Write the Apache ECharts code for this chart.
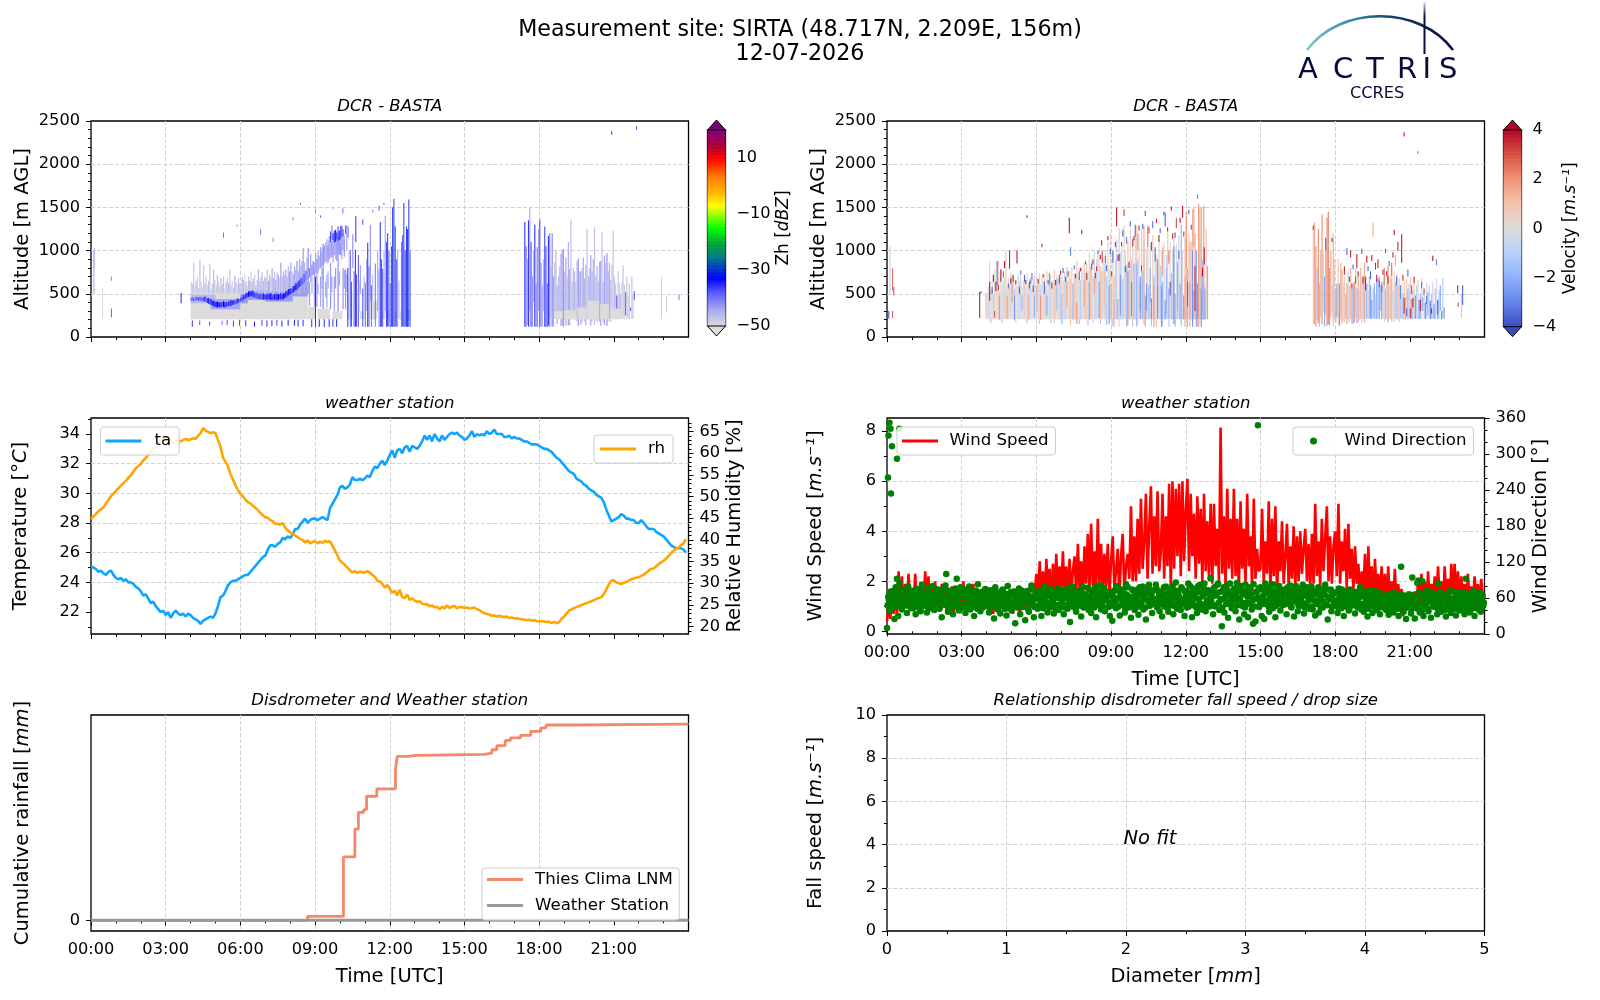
<!DOCTYPE html>
<html><head><meta charset="utf-8">
<style>html,body{margin:0;padding:0;background:#fff}#c{width:1600px;height:1000px}</style>
<script src="https://cdn.jsdelivr.net/npm/echarts@6/dist/echarts.min.js"></script>
</head><body><div id="c"></div>
<script>
const hourTicks=[0,3,6,9,12,15,18,21];
const tempTicks=[22,24,26,28,30,32,34];
const tempMinor=[21,23,25,27,29,31,33,35];
const rhTicks=[20,25,30,35,40,45,50,55,60,65];
const windTicks=[0,2,4,6,8];
const windMinor=[1,3,5,7];
// Temperature, ten readings per hour
const temperature=[
25.1,25.0,24.9,24.7,24.8,24.6,24.5,24.7,24.8,24.5,
24.3,24.2,24.3,24.1,24.2,24.0,24.0,23.9,23.7,23.6,
23.4,23.1,23.2,22.9,22.6,22.7,22.4,22.2,22.0,22.1,
21.8,22.0,21.6,21.9,22.1,21.9,21.8,21.9,21.7,21.9,
21.8,21.6,21.5,21.4,21.2,21.4,21.5,21.6,21.7,21.6,
21.9,22.4,23.0,23.1,23.4,23.8,24.0,24.1,24.1,24.2,
24.3,24.4,24.5,24.5,24.7,24.9,25.1,25.3,25.5,25.7,
25.8,26.2,26.5,26.5,26.4,26.6,26.7,27.0,26.9,27.1,
27.0,27.2,27.6,27.6,27.9,28.1,28.3,28.0,28.2,28.3,
28.3,28.2,28.3,28.4,28.3,28.2,29.0,29.3,29.6,29.9,
30.4,30.5,30.3,30.4,30.6,31.1,30.9,30.9,31.0,30.9,
31.0,31.2,31.1,31.5,31.8,31.7,32.0,32.2,31.9,32.2,
32.6,32.9,32.4,32.9,33.0,32.7,33.1,33.2,32.8,33.2,
33.1,33.0,33.2,33.5,33.9,33.6,33.9,33.5,34.0,33.7,
33.5,33.9,33.6,33.8,34.0,34.1,34.0,34.1,33.9,33.8,
33.6,33.7,33.9,34.2,33.8,34.0,33.9,34.0,33.9,34.2,
34.0,34.1,34.3,34.0,34.0,34.0,33.8,33.8,33.9,33.7,
33.8,33.7,33.7,33.6,33.5,33.5,33.4,33.3,33.3,33.3,
33.2,33.1,33.0,33.0,32.9,32.8,32.6,32.4,32.3,32.1,
31.9,31.7,31.5,31.4,31.3,31.0,30.9,30.8,30.6,30.5,
30.3,30.2,30.1,29.9,29.8,29.7,29.4,28.9,28.5,28.1,
28.2,28.3,28.4,28.6,28.5,28.3,28.3,28.2,28.2,28.0,
28.0,28.2,28.0,27.8,27.6,27.6,27.6,27.4,27.3,27.2,
27.1,26.9,26.7,26.5,26.4,26.3,26.3,26.3,26.2,26.0];
// Relative humidity, ten readings per hour
const humidity=[
44.8,45.4,46.0,46.6,47.1,47.5,48.4,49.2,50.1,50.6,
51.3,51.9,52.5,53.1,53.6,54.4,54.9,55.7,56.5,57.0,
57.5,58.3,58.9,59.6,60.3,61.0,61.4,62.3,63.0,63.2,
63.6,63.9,62.8,62.2,62.6,62.9,62.7,63.0,63.3,63.0,
63.2,63.4,63.3,64.0,64.6,65.8,65.2,64.9,64.6,64.8,
64.6,63.0,61.5,59.0,58.0,57.0,55.2,54.0,52.6,51.5,
50.6,50.0,49.3,48.7,48.4,47.9,47.4,46.9,46.2,45.7,
45.2,45.1,44.6,44.3,43.7,43.7,43.5,43.9,42.8,42.2,
41.7,41.4,41.0,40.6,40.2,40.0,39.4,39.9,39.2,39.5,
39.7,39.2,39.6,39.3,39.8,39.5,39.7,38.6,37.5,36.4,
35.2,34.7,34.2,33.6,33.0,32.5,32.8,32.4,32.7,32.5,
32.5,32.8,32.4,31.9,31.5,30.6,30.4,29.9,29.0,29.6,
28.7,27.8,28.3,27.2,28.5,26.8,26.6,27.4,26.2,26.5,
26.0,25.7,25.9,25.3,25.1,25.2,24.7,24.9,24.4,24.6,
24.0,24.6,24.2,24.9,24.3,24.6,24.8,24.2,24.5,24.5,
24.3,24.4,24.2,24.3,24.4,24.0,23.8,23.4,23.1,22.9,
22.8,22.5,22.6,22.3,22.5,22.3,22.2,22.3,22.0,22.1,
21.9,21.9,21.8,21.7,21.6,21.5,21.6,21.4,21.5,21.3,
21.2,21.3,21.2,21.1,21.1,20.8,21.1,20.8,21.0,21.8,
22.3,23.0,23.7,24.0,24.3,24.5,24.7,25.0,25.2,25.4,
25.6,25.9,26.1,26.4,26.6,26.8,27.5,28.6,29.7,30.6,
30.7,30.2,30.0,29.8,30.1,30.3,30.6,30.9,31.1,31.3,
31.4,31.7,32.0,32.4,32.9,33.3,33.4,33.9,34.4,34.8,
35.2,35.7,36.3,36.9,37.5,37.9,38.2,38.8,39.2,40.2];
// Wind speed, fifteen readings per hour
const windSpeed=[
0.4,1.2,0.5,1.4,0.7,1.6,0.6,2.4,1.0,2.2,0.8,1.9,1.1,2.3,1.0,
1.7,0.9,2.3,1.1,1.6,0.7,1.8,1.1,2.4,1.3,2.2,0.9,1.7,1.1,2.0,
1.0,1.7,0.8,1.9,1.2,1.6,0.7,1.5,1.1,1.8,0.6,1.5,1.0,1.7,1.2,
0.9,2.0,1.0,1.3,0.8,1.6,1.1,1.9,0.9,1.4,1.0,1.5,0.8,1.6,1.2,
0.9,1.5,1.1,1.3,0.7,1.4,1.0,1.6,0.9,1.3,1.1,1.5,0.8,1.6,1.0,
1.2,0.7,1.7,0.9,1.3,0.6,1.5,1.1,1.4,0.9,1.7,1.1,1.5,1.0,1.6,
2.3,1.3,2.8,1.4,2.4,1.1,2.9,1.6,2.5,1.2,2.7,1.5,3.1,1.3,2.6,
1.6,3.2,1.4,2.6,1.2,2.9,1.5,2.4,3.0,1.5,3.5,1.7,2.8,1.3,3.4,
1.9,3.9,1.6,4.3,1.8,3.2,1.4,4.5,1.9,3.5,1.5,3.1,1.8,3.5,1.4,
2.8,3.8,1.7,2.4,3.3,1.3,3.0,3.9,1.6,2.6,3.1,2.1,5.0,2.0,3.8,
2.0,4.5,2.3,5.3,2.5,3.6,5.5,2.1,4.2,5.8,2.3,4.6,2.6,5.6,2.4,
3.2,5.5,2.1,4.6,2.6,5.9,1.6,6.0,2.5,5.7,3.0,5.9,2.2,6.0,2.8,
4.8,6.1,2.4,5.5,3.0,4.7,2.1,5.4,2.7,4.9,1.9,5.5,2.4,4.4,2.2,
5.1,1.9,5.1,2.6,4.1,2.0,8.15,2.3,4.6,1.8,5.7,2.5,4.5,2.1,5.7,
2.2,4.5,1.5,5.2,2.5,4.1,1.9,5.5,2.6,3.8,1.7,5.3,2.1,3.3,2.4,
2.5,4.9,1.9,3.6,2.3,5.2,1.6,4.5,2.2,5.0,1.5,3.6,2.4,4.4,1.9,
3.0,4.3,1.8,3.4,2.1,4.2,1.7,3.8,2.0,4.0,2.3,3.3,4.1,2.0,3.5,
1.7,3.9,1.9,5.1,2.2,3.6,1.8,4.5,2.4,3.7,5.0,2.0,3.8,1.9,3.4,
4.0,2.2,5.1,1.9,3.6,2.4,4.1,1.7,4.3,2.1,3.3,1.6,3.4,1.9,2.7,
1.3,2.4,1.6,3.1,1.1,3.4,1.5,2.6,1.1,2.9,1.4,2.3,1.0,2.6,1.2,
2.3,1.0,2.6,0.9,2.0,1.3,2.5,0.8,1.9,1.2,1.7,0.6,1.5,1.1,1.6,
0.9,1.5,1.2,1.6,0.9,2.1,1.0,2.3,1.2,2.0,0.9,2.4,1.1,1.9,1.3,
2.2,1.1,2.6,1.3,2.0,1.0,2.6,1.4,2.1,1.1,2.7,1.5,2.7,1.2,2.4,
1.1,2.2,1.3,1.9,0.9,2.3,1.2,1.8,1.0,2.2,1.3,1.9,1.0,2.1,1.4];
// Wind direction, twenty readings per hour
const windDirection=[
10,62,38,71,45,66,25,78,52,30,84,58,41,73,48,68,35,79,55,62,
72,43,61,33,75,50,66,38,82,47,70,56,36,77,44,64,52,80,40,68,
58,74,42,67,28,63,49,81,54,37,72,46,69,33,60,76,51,64,39,78,
44,62,74,35,66,52,79,41,57,71,30,65,48,83,56,38,70,44,61,75,
50,68,36,73,47,63,26,78,55,41,69,34,60,74,46,66,31,80,52,43,
39,64,71,18,57,48,76,33,62,45,69,23,56,72,37,60,81,49,28,65,
67,42,58,73,30,63,46,79,52,36,69,44,75,56,34,61,48,70,40,64,
72,47,33,60,76,42,65,20,55,79,46,62,37,68,51,73,29,58,44,66,
53,77,40,62,35,69,47,74,28,56,63,81,41,50,71,38,60,67,45,30,
65,22,57,72,43,59,75,31,64,48,70,36,83,52,44,61,27,74,58,40,
49,66,32,78,54,70,41,62,24,68,76,47,58,35,73,50,82,44,60,38,
71,29,63,46,79,55,37,66,48,74,33,60,86,42,69,52,40,75,57,30,
62,44,84,53,68,28,76,47,60,35,80,50,71,41,65,84,38,56,73,46,
93,62,33,78,48,68,84,40,57,13,72,36,64,81,27,54,70,43,61,76,
38,85,60,24,72,47,66,33,82,52,28,64,75,41,17,58,21,69,348,45,
78,30,63,25,84,50,70,37,59,83,43,67,28,74,55,80,39,62,48,71,
66,33,78,52,81,44,62,29,70,56,38,76,47,61,82,34,64,50,73,42,
57,79,41,66,31,71,53,36,75,62,44,68,82,49,24,60,73,38,65,54,
47,69,35,76,58,43,66,30,71,52,62,39,74,48,57,65,34,70,44,60,
78,41,63,37,68,52,29,72,46,60,35,64,50,70,42,57,33,66,46,61,
54,40,65,32,59,46,68,36,55,42,63,30,58,112,48,37,62,25,52,44,
66,34,94,47,26,59,42,89,36,64,50,30,57,44,73,38,61,27,52,68,
45,60,33,84,50,37,67,42,56,29,64,47,72,35,58,44,69,31,62,52,
39,70,46,61,33,92,48,66,36,58,43,72,30,63,50,41,69,37,56,47];
// Wind direction, second set of twenty per hour, between the first set's readings
const windDirectionB=[
48,58,66,42,54,72,46,62,50,68,56,44,60,74,52,64,47,70,55,43,
60,52,70,46,64,57,41,73,49,61,55,67,45,71,53,59,42,66,50,74,
56,64,44,69,51,60,75,48,57,66,43,71,53,62,47,68,55,41,73,50,
63,50,70,45,59,74,52,65,46,61,55,72,42,67,51,58,64,47,73,54,
57,66,43,71,52,61,47,69,55,44,64,50,73,58,42,67,53,60,46,70,
52,62,48,70,44,58,65,51,72,46,60,54,68,41,63,50,74,56,45,66,
61,47,73,54,66,43,59,70,50,63,45,74,57,52,68,42,60,76,49,64,
54,69,44,62,72,50,58,46,67,75,53,42,64,56,71,47,61,78,50,66,
60,48,74,52,68,57,44,79,63,50,72,46,65,55,76,43,60,70,52,66,
47,63,72,54,80,45,60,68,50,74,57,43,66,78,52,62,46,73,56,68,
58,74,46,65,52,79,60,44,70,55,82,48,64,72,50,58,76,45,67,53,
64,50,78,57,68,44,74,60,52,80,47,66,72,55,63,45,78,58,50,70,
72,56,46,80,62,52,74,65,44,70,58,82,50,63,76,47,68,55,72,60,
54,68,76,46,64,82,52,70,58,44,78,60,50,72,65,84,48,62,74,56,
66,48,74,58,80,52,68,44,72,62,78,50,66,56,83,46,70,60,76,54,
60,74,50,68,56,78,46,64,72,52,82,58,47,70,62,76,50,66,55,74,
50,68,58,76,46,64,72,54,80,60,48,70,62,52,74,44,66,78,56,64,
64,46,72,56,68,50,78,60,44,70,54,66,76,48,62,58,74,46,68,52,
56,70,44,62,50,74,58,46,68,54,64,42,72,56,48,66,60,50,70,46,
50,64,44,70,54,58,42,66,50,62,46,72,56,40,60,48,68,52,44,62,
44,58,50,64,40,54,62,46,68,52,42,60,48,66,38,56,50,64,44,58,
52,42,64,48,60,54,44,70,50,38,62,46,66,52,42,60,56,68,46,54,
50,64,42,58,70,46,54,62,40,66,50,44,60,72,48,56,42,64,52,46,
46,60,52,70,42,56,64,48,38,66,54,44,60,50,70,46,58,42,64,52];
const windDirExtra=[[0.1,352],[0.14,342],[0.06,331],[0.2,313],[0.4,292],[0.04,261],[0.16,234],[0.5,342],[2.38,100],[2.8,92],[0.4,92],[13,93],[21.3,85],[21.5,88]];
const rainSteps=[[0,0],[8.7,0.2],[10.14,3.23],[10.6,4.65],[10.74,5.5],[10.95,5.64],[11.07,6.32],[11.48,6.7],[12.23,7.67],[12.3,8.35],[12.75,8.4],[13.05,8.45],[15.8,8.52],[16.1,8.69],[16.3,8.9],[16.64,9.17],[16.85,9.29],[17.25,9.42],[17.66,9.63],[18.07,9.8],[18.28,9.95],[19.4,10],[24,10]];
const stationRain=[[0,0],[24,0]];
// Reflectivity profiles are twenty per hour. Base patches [start,end,low,high,dBZ]
const zhBlocks=[[4,8.7,205,500,-50],[8.7,9.0,205,350,-50],[9.1,9.6,205,330,-50],[9.7,10.1,205,300,-50],[10.3,10.5,205,500,-50],[10.8,11,205,300,-50],[11.2,11.5,205,420,-50],[11.7,12,205,300,-50],[12.2,12.5,205,300,-50],[12.7,12.85,205,320,-50],
[4,5,390,490,-46],[4.8,6,320,440,-44],[6,6.3,390,500,-43],[6.3,7,430,540,-43],[7,8.1,410,530,-43],[8.1,8.7,470,640,-43]];
// Pale fringe above the base, from 04:00: column tops and dBZ
const zhFringeTop=[
640,620,860,600,650,700,560,890,640,580,830,620,700,600,650,850,560,620,780,660,
600,720,640,590,680,610,700,560,640,690,620,780,600,650,570,710,640,600,680,620,
620,690,660,720,640,590,700,650,760,640,680,720,600,660,780,640,690,750,650,700,
680,780,650,720,690,800,680,760,660,740,720,690,860,700,760,720,780,700,820,760,
860,760,720,820,780,880,760,900,820,880,1030,860,760,920];
const zhFringeDbz=[
-49,-48,-48,-49,-47,-48,-49,-47,-48,-49,-48,-47,-48,-49,-47,-48,-49,-48,-47,-48,
-48,-47,-49,-48,-46,-48,-47,-49,-47,-48,-46,-48,-47,-49,-48,-46,-47,-49,-47,-46,
-48,-46,-47,-49,-46,-48,-47,-45,-48,-46,-47,-49,-45,-47,-46,-48,-45,-47,-46,-48,
-45,-47,-44,-46,-48,-45,-46,-47,-44,-46,-45,-48,-44,-46,-45,-47,-44,-45,-46,-44,
-44,-46,-45,-44,-46,-43,-45,-44,-46,-43,-44,-45,-43,-44];
// Bright band, from 04:00, per column: low, thickness, dBZ
const zhBandLow=[
420,425,415,425,420,430,420,425,415,420,415,410,405,395,385,380,370,365,355,350,
345,340,350,340,345,355,345,340,350,360,355,365,360,370,375,385,380,390,400,405,
410,420,430,440,450,460,465,470,480,470,465,455,450,445,440,445,435,440,430,435,
435,430,440,435,430,425,440,430,435,425,430,440,435,430,440,450,460,470,480,490,
495,505,515,525,540,550,565,580,590,610,620,635,650,665,670,690,700,710,720,735,
745,760,770,785,800,820,830,850,870,880,890,900,920,930,940,950,950,960,970,980,
990,1000,1010,1020];
const zhBandThick=[
30,40,35,25,45,30,40,35,50,30,45,60,55,50,65,60,70,55,65,60,
60,70,50,65,55,45,70,60,55,40,60,50,65,55,45,50,40,55,45,35,
50,40,55,45,60,50,65,55,50,65,70,60,55,70,65,50,70,55,75,60,
55,70,60,65,75,60,50,70,60,75,65,55,70,60,65,55,70,60,75,65,
70,60,75,65,80,70,85,75,90,80,110,95,120,100,130,110,140,120,150,130,
170,140,180,150,190,160,210,170,220,180,230,190,210,180,240,200,220,250,200,230,
210,180,190,160];
const zhBandDbz=[
-39,-40,-38,-41,-38,-40,-37,-39,-38,-40,-37,-36,-38,-36,-35,-37,-34,-36,-34,-35,
-34,-33,-36,-34,-35,-37,-33,-35,-34,-38,-35,-37,-34,-36,-35,-38,-37,-35,-37,-38,
-36,-38,-35,-37,-34,-36,-34,-35,-33,-35,-37,-36,-38,-37,-39,-36,-38,-37,-35,-37,
-35,-34,-37,-35,-33,-36,-38,-34,-36,-35,-33,-37,-34,-36,-33,-35,-34,-36,-34,-36,
-35,-37,-34,-36,-34,-35,-37,-36,-38,-37,-40,-39,-42,-41,-43,-41,-44,-42,-43,-45,
-43,-45,-44,-46,-43,-45,-42,-44,-46,-43,-45,-44,-46,-43,-45,-44,-46,-45,-43,-45,
-44,-46,-43,-45];
// Pale patches, one column each [time, low, high, dBZ]
const zhPale=[
[8.7,500,1030,-43],[8.75,360,640,-43],[8.8,640,760,-44],[8.85,500,700,-45],[8.95,350,760,-44],[9.05,350,900,-43],[9.1,500,620,-45],[9.2,350,700,-44],[9.25,560,800,-45],[9.3,330,1080,-42],[9.4,460,640,-44],[9.45,340,720,-44],[9.5,560,760,-45],[9.6,320,860,-43],[9.65,520,700,-44],[9.75,300,700,-44],[9.8,560,800,-43],[9.9,300,1170,-42],[9.95,600,760,-44],[10.1,320,800,-43],[10.15,560,780,-44],[10.2,320,780,-43],[10.25,520,720,-44],
[8.8,700,960,-44],[8.9,720,880,-43],[9,760,980,-44],[9.1,740,1000,-45],[9.2,800,1040,-43],[9.25,820,980,-45],[9.35,860,1060,-44],[9.45,850,1130,-45],[9.5,860,1050,-43],[9.55,900,1170,-44],[9.65,920,1100,-43],[9.7,860,1060,-44],[9.8,900,1150,-45],[9.85,880,1100,-43],[9.95,950,1200,-44],[10,950,1080,-42],[10.05,900,1230,-44],[10.15,930,1130,-43],[10.25,1000,1290,-44],
[9.6,1100,1220,-37],[9.65,1130,1290,-42],[9.7,1120,1200,-36],[9.75,1090,1230,-37],[9.8,1100,1240,-35],[9.85,1130,1210,-36],[9.9,1110,1280,-38],[9.95,1120,1230,-36],[10,1140,1280,-38],[10.05,1170,1290,-38],[10.1,1160,1250,-39],[10.2,1190,1290,-39],[10.3,1150,1280,-41]];
// Individual reflectivity profiles [time, low, high, dBZ]
const zhStripes=[
[0.1,500,1000,-43],[0.12,800,1030,-46],[0.45,210,570,-49],[0.8,230,330,-37],[0.8,650,700,-40],[3.6,390,510,-33],
[4.05,120,190,-34],[4.35,140,190,-36],[4.75,130,180,-36],[5.25,140,190,-38],[5.45,140,200,-36],[5.7,120,190,-35],[5.95,130,200,-36],[6.2,125,195,-34],[6.55,120,180,-33],[6.85,130,200,-35],[7.05,120,195,-34],[7.25,125,195,-33],[7.45,130,200,-35],[7.65,120,190,-31],[7.9,130,200,-33],[8.15,130,200,-33],[8.3,120,200,-34],[8.5,125,200,-32],[8.85,115,205,-31],
[9,120,700,-34],[9.15,115,205,-33],[9.35,115,205,-32],[9.55,120,205,-33],[9.7,120,205,-34],[9.85,120,205,-33],
[10.3,120,800,-33],[10.35,500,1000,-44],[10.4,120,1000,-38],[10.45,120,640,-36],[10.5,800,1190,-39],[10.55,120,760,-37],[10.6,120,1010,-33],[10.62,1100,1400,-34],[10.65,120,720,-36],[10.72,120,950,-36],[10.75,300,640,-44],[10.8,500,830,-41],[10.9,120,560,-36],[10.95,300,700,-44],[11,120,630,-38],[11.05,300,900,-44],[11.1,120,1090,-33],[11.15,120,820,-37],[11.2,420,1300,-40],[11.25,120,600,-38],[11.3,420,720,-44],[11.4,120,850,-38],[11.5,300,1000,-42],[11.55,120,780,-42],[11.6,120,1330,-32],[11.65,120,900,-36],[11.7,120,790,-36],[11.75,300,1000,-44],[11.8,300,1400,-41],[11.85,120,1100,-36],[11.9,120,1200,-31],[11.95,120,1000,-36],[12,120,620,-38],[12.05,120,1050,-36],[12.1,120,1500,-34],[12.15,120,1600,-30],[12.2,120,1280,-31],[12.25,120,900,-38],[12.3,120,1000,-42],[12.35,300,650,-44],[12.45,120,1100,-38],[12.5,120,1180,-36],[12.55,120,1550,-31],[12.6,120,1000,-31],[12.65,120,1280,-32],[12.7,120,1250,-31],[12.75,120,1590,-32],[12.8,120,1000,-37],
[5.3,1150,1210,-38],[5.85,1280,1300,-38],[6.8,1180,1250,-40],[7.3,1100,1150,-40],[8.1,1350,1390,-40],[8.4,1530,1550,-36],[9,1440,1480,-40],[9.2,1380,1410,-38],[9.7,1480,1500,-42],[10.1,1430,1490,-38],[10.9,1300,1360,-36],[11.3,1440,1470,-38],[11.55,1460,1520,-36],[11.75,1530,1550,-36],
[20.9,2340,2380,-34],[21.9,2400,2440,-36],[22.9,210,700,-48],[23.1,280,480,-48],[23.6,430,490,-38]];
// Second cloud block, from 17:24, per column: low, high, dBZ
const zh2Low=[
120,120,140,120,300,120,120,400,120,120,120,300,120,120,120,300,120,120,120,130,
120,210,120,120,300,210,150,210,300,130,130,120,200,130,210,130,140,210,300,210,
200,210,180,130,210,140,180,210,180,130,210,200,210,130,180,210,140,200,180,210,
180,130,210,180,140,210,130,180,210,170,210,210,240,210,210,210,250,210,210,210,
210,250,210,210,210,300,210,210,430];
const zh2High=[
1330,1050,900,1350,1500,1100,700,1000,1300,620,1040,1250,1360,860,600,900,1280,1050,620,1170,
1200,820,1200,700,860,1000,600,700,820,960,1000,1020,760,920,700,1100,780,1360,640,800,
760,640,880,910,760,760,800,920,680,840,1250,700,800,950,760,900,1270,700,820,640,
870,880,1220,640,940,860,970,760,860,660,840,1230,700,620,480,760,620,500,640,830,
600,520,700,480,620,340,700,500,530];
const zh2Dbz=[
-37,-40,-44,-36,-45,-38,-42,-46,-37,-42,-41,-45,-38,-42,-44,-46,-38,-38,-40,-36,
-42,-47,-42,-44,-47,-46,-45,-47,-47,-45,-44,-43,-47,-44,-47,-45,-45,-47,-46,-47,
-46,-47,-46,-43,-47,-44,-46,-45,-46,-45,-47,-46,-47,-44,-46,-45,-47,-47,-45,-47,
-45,-44,-47,-46,-44,-47,-43,-46,-45,-47,-47,-48,-47,-48,-37,-48,-48,-47,-48,-48,
-48,-40,-48,-48,-48,-38,-48,-48,-40];
// Grey lower layer of the second block, drawn last [start,end,low,high,dBZ]
const zh2Base=[[18.6,18.95,210,300,-50],[19,19.5,205,310,-50],[19.55,19.9,205,340,-50],[19.95,20.4,205,420,-50],[20.45,20.8,205,380,-50],[20.85,21.35,205,330,-50]];
// Velocity, from 04:00, per column: top of profile and m/s
const velTop=[
520,590,880,540,640,500,780,560,620,880,520,790,610,650,700,1000,560,680,620,740,
600,720,560,650,590,720,640,700,560,650,700,590,740,620,680,700,560,660,720,600,
700,640,740,600,700,650,720,590,760,640,680,720,600,660,780,640,720,680,650,700,
720,650,760,680,810,640,760,680,810,620,740,680,880,700,800,660,810,740,860,760,
860,760,980,820,880,700,1000,760,900,950,1040,820,760,920,860,1000,700,1100,780,1200,
620,1000,430,900,1130,440,1260,980,1050,680,1290,1000,840,1120,780,1250,900,1150,850,1300,
1290,900,1180,640,1250,760,1130,480,1020,1200,600,1090,450,1180,700,1040,950,600,1130,820,
1000,640,1100,430,950,1230,560,1100,740,1000,1200,500,1080,880,1180,620,1300,1000,480,1150,
1350,800,1200,620,1100,1480,540,1200,1000,620,1500,1100,1500,900,1520,560,1260,820];
const velVal=[
-.3,-.1,.4,-.5,.2,-.7,.3,-.2,.1,.7,-.4,.2,-.6,0,.3,.6,-.6,.1,-.2,.4,
-.3,.2,-.8,-.1,.3,-.4,.1,-.7,.3,-.2,.5,-.5,.2,-.3,.5,-.7,-.1,.3,-.6,.2,
.4,-.4,.1,-.8,.6,-.2,.3,-.5,.7,-.3,.1,-.7,.5,-.2,.8,-.4,.2,-.1,.6,-.6,
.2,.8,-.4,.3,-.7,.5,-.2,.9,-.5,.1,.7,-.3,.8,-.6,.4,-.9,.7,-.1,.5,-.4,
.8,-.6,.3,.9,-.8,.5,-.3,.8,-.7,.3,-.1,1,-.9,.4,-.5,.6,-1.1,.2,-.7,.5,
-1.4,.3,-1.8,.4,-1,-2.2,.7,-.6,.1,-1.6,.4,-.4,-1.4,.8,-1.7,.3,-.7,.6,-2,.2,
.4,-1.5,.4,-2.1,.9,-1.8,-.5,-2.4,.2,.6,-2,-.3,-2.6,.5,-1.7,-.5,.3,-2.2,.4,-1.2,
-.4,-2,.4,-2.6,-.8,.7,-2.3,.2,-1.4,-.6,.5,-2.2,-.3,1.1,-.5,-2.4,.7,-.4,-2.7,1.2,
1.2,-1.6,.7,-2.3,-.5,1.3,-2,1.5,-.7,-2.4,1.2,-.5,1.6,-1.6,1.8,-2.5,.8,-1.7];
// Velocity second cloud block, from 17:06, per column: low, high, m/s
const vel2Low=[
150,150,120,200,160,120,230,150,300,120,260,130,150,130,230,300,130,210,170,230,
150,130,210,160,200,170,210,150,200,170,210,160,150,170,210,160,170,200,210,160,
210,170,210,210,210,210,210,210,220,210,210,210,210,210,300,210,
210,170,210,200,170,210,210,180,210,170,210,200,210,170,210,210,210,200,210,210,
210,210,210,210,210,210,210,210,210,210,210,210,300,210,210,210,250,210,210,210,
210,210,210,260,210,210,300,210,210,210];
const vel2High=[
1250,1330,1050,800,1250,620,1000,1420,1000,700,1100,1380,1450,800,1000,600,1200,900,560,620,
900,620,860,780,620,700,500,620,760,600,800,560,620,640,800,560,700,560,800,700,
680,860,620,620,540,700,600,430,560,620,500,680,680,700,600,640,
620,720,560,640,820,600,700,680,540,760,640,720,600,680,560,620,500,640,460,680,
560,620,700,440,540,620,480,600,660,430,500,680,460,560,400,620,520,600,420,500,
640,380,560,680,420,540,600,300,680,340];
const vel2Val=[
.8,1.5,1.8,-1.4,2,-1.5,1.4,1.8,-.6,-2,1.6,2,2.2,-2,1.5,-1,1.4,.6,1.6,-2.4,
.5,-2.4,1.2,1.6,-.4,.8,-1.2,1.8,-.8,.6,1.2,-1.6,-2,1.8,.8,-1.6,1.6,-.5,1.2,.8,
-1.4,1.4,-.4,-2,.6,-1.6,-2.2,-2.4,-1.2,-2,.4,-2.2,-1.4,-2,-1.4,-2.4,
1,-.4,1.6,.4,2,-.6,1,1.4,-.8,.6,1.2,-1,1.6,.8,-1.2,.4,-1.8,1,-1.6,.6,
-2,-1,.8,-2.2,-1.4,.6,-2.4,-1,.4,-2.6,-1.6,.2,-2.4,-1,-2.6,-.4,-2,-1,-2.8,-1.4,
-.6,-2.8,-1.2,-.2,-2.6,-1,-2,-2.8,-.8,-2.4];
// Individual velocity profiles [time, low, high, m/s]
const velStripes=[
[0.05,210,300,-3.8],[0.1,500,1050,-0.8],[0.2,220,300,2.8],[0.2,540,800,2.6],[0.25,480,580,3],[3.7,220,520,3.6],[3.75,500,530,-3.8],
[4.15,160,205,-1.4],[4.6,160,205,-1.5],[5.15,170,205,-1.2],[5.6,160,205,-1.6],[6.1,150,205,-1],[6.55,165,205,-1.5],[7,150,205,-1.4],[7.35,140,205,1],[7.7,150,205,-1.6],[8.05,130,205,-1.2],[8.25,160,205,1],[8.55,150,205,-1.4],[8.8,140,205,-1.8],[9.05,125,205,-1.4],[9.3,120,205,.8],[9.6,125,205,-1.6],[9.85,120,205,-1.2],[10.05,130,205,.9],[10.35,120,205,-1.8],[10.6,130,205,-1.4],[10.8,120,205,1],[11.05,125,205,-1.6],[11.3,120,205,-1.2],[11.55,120,205,-2],[11.8,125,205,.9],[12.05,120,205,-1.6],[12.25,120,205,-1.4],[12.45,120,205,1.2],
[3.95,215,500,1.2],[4.1,420,640,3.6],[4.2,500,580,-3.6],[4.3,230,300,3],[4.35,530,640,3.8],[4.4,600,880,-3.4],[4.5,200,480,-2],[4.55,640,780,3.6],[4.7,800,880,3.8],[4.8,210,480,1.8],[4.85,560,620,-3.4],[4.9,790,1000,3.6],[5,400,700,2],[5.05,640,720,-3.5],[5.1,200,480,-2.5],[5.2,850,1000,3.7],[5.3,500,580,3.2],[5.4,300,480,-1.8],[5.5,640,720,-3.6],[5.6,1380,1410,3.8],[5.65,200,480,1.6],[5.7,560,640,3.2],[5.8,660,740,-3],[5.9,240,480,-2],[6,300,590,1.5],[6.05,620,670,3.6],[6.15,200,480,2],[6.2,1040,1080,3.6],[6.3,500,640,-3.4],[6.4,250,480,-2.2],[6.5,600,740,2.4],[6.6,560,630,3.5],[6.7,160,480,1],[6.8,300,680,-1.6],[6.9,620,720,3.3],[7,150,500,-1.5],[7.05,740,800,-3.6],[7.2,350,640,1.6],[7.3,1200,1380,3.8],[7.35,940,1040,-3],[7.45,200,620,-1.8],[7.55,680,730,3.6],[7.6,150,400,2],[7.7,660,760,-3.2],[7.8,1190,1240,3.6],[7.9,350,650,1.8],[8,660,740,3.4],[8.1,200,640,-2.2],[8.2,780,850,-3.4],[8.3,500,690,1.6],[8.4,760,820,3.5],[8.5,220,640,-2.4],[8.6,1060,1120,3.6],[8.62,860,1000,3.2],[8.7,340,760,1.2],[8.8,760,830,-3.5],[8.9,150,600,-2.4],[9,700,760,3.3],[9.05,860,1000,-3.4],[9.1,120,700,1.4],[9.2,1280,1500,3.6],[9.25,880,950,-3.4],[9.35,250,720,-2.5],[9.4,1050,1100,3.6],[9.5,1400,1480,3.2],[9.55,750,820,-3.6],[9.65,130,760,2],[9.7,800,870,3.6],[9.8,240,640,-2.8],[9.85,1050,1130,3.4],[9.95,1160,1300,-3.2],[10,120,850,-1.6],[10.05,1000,1200,2],[10.15,300,700,-2.6],[10.2,760,830,3.4],[10.3,150,1290,1.5],[10.4,300,620,-2.5],[10.45,1040,1290,2.2],[10.55,400,800,-2],[10.6,1000,1100,-3.6],[10.7,120,600,1.8],[10.75,870,1040,-3.4],[10.85,220,900,-2.6],[10.9,1100,1180,3.6],[11,120,600,-2.4],[11.05,700,1040,1.6],[11.15,1280,1440,-3.5],[11.2,260,800,-1.8],[11.3,850,1000,2.4],[11.35,480,640,-3.6],[11.45,1130,1200,3],[11.5,150,1050,-2.8],[11.6,1260,1380,3],[11.65,300,850,-2],[11.7,900,1000,-3.4],[11.8,150,1300,-1.5],[11.85,1380,1520,3.6],[11.95,120,700,1.6],[12,800,1450,2],[12.05,350,640,-3.4],[12.15,120,1100,1.4],[12.25,120,1000,-2.6],[12.3,1040,1500,1.8],[12.35,300,820,3.6],[12.4,120,1000,-2.4],[12.5,120,1540,2],[12.55,200,1500,1.2],[12.6,120,560,-2.6],[12.65,700,800,3.8],[12.7,200,620,-1.8],[12.72,840,1040,3.6],[12.45,1600,1650,-3],
[4.25,640,720,3.7],[4.45,540,600,3.5],[4.65,690,760,-3.3],[4.95,620,680,3.6],[5.15,610,660,3.4],[5.35,720,770,-3.2],[5.55,610,660,3.6],[5.75,620,660,-3.4],[5.85,520,600,3.3],[6.25,690,730,3.5],[6.45,620,660,-3.5],[6.75,600,660,3.6],[6.95,720,770,3.5],[7.15,640,700,-3.4],[7.25,700,760,3.3],[7.5,780,830,-3.2],[7.75,760,800,3.6],[7.95,840,880,-3.4],[8.25,840,900,3.4],[8.35,680,740,3.5],[8.45,960,1000,-3.5],[8.55,900,950,3.4],[8.75,860,940,-3.3],[8.85,1120,1170,3.6],[8.95,960,1020,-3.4],[9.15,1040,1100,3.4],[9.3,880,960,3.6],[9.45,1160,1240,-3.5],[9.6,1080,1160,-3],[9.75,1280,1340,-3.5],[9.9,1120,1170,3.6],[10.1,1230,1290,3.4],[10.25,1250,1310,-3.4],[10.35,1400,1460,-3.6],[10.5,1200,1270,3.3],[10.65,1260,1340,-3.2],[10.8,1320,1370,3.6],[10.95,1200,1260,-3.4],[11.1,1410,1450,-3.6],[11.25,1220,1270,3.5],[11.4,1460,1510,3.6],[11.55,1150,1210,-3.4],[11.75,1320,1380,3.6],[11.9,1160,1220,3.4],[12.1,1420,1470,-3.6],[12.2,1240,1300,3.2],
[17.1,1240,1290,3.4],[17.6,1000,1150,-3.4],[17.85,1100,1150,3.6],[18.35,720,820,3.5],[18.45,950,1030,-3.4],[18.55,640,700,3.4],[18.6,920,1000,3.6],[18.65,560,620,3.2],[18.7,780,840,-3.4],[18.8,620,700,-3.4],[18.85,800,960,3.6],[18.9,700,760,3.6],[19.05,960,1020,-3.5],[19.1,620,700,3.6],[19.2,540,700,3.5],[19.25,860,940,3.8],[19.3,760,820,-3.4],[19.4,670,760,-3.6],[19.45,880,950,3.6],[19.5,1160,1320,1.6],[19.6,780,860,3.5],[19.65,640,720,3.6],[19.7,800,900,3.4],[19.75,580,650,-3.5],[19.85,520,600,-3.2],[19.9,720,780,3.6],[19.95,600,800,2.4],[20,970,1020,-3.6],[20.05,700,760,3.5],[20.1,620,700,3.6],[20.15,820,880,-3.4],[20.25,700,860,2.6],[20.3,920,980,3.6],[20.35,1180,1240,3.8],[20.4,820,950,1.6],[20.45,600,700,-3.4],[20.5,1000,1100,3.6],[20.6,440,600,-2.8],[20.65,860,1190,3.6],[20.7,650,720,3.5],[20.75,270,450,3.4],[20.85,240,330,-3.2],[20.9,700,780,-3.4],[21,220,330,3.4],[21.05,500,600,3],[21.1,340,450,3.6],[21.15,620,700,3.5],[21.4,300,430,3.6],[21.45,560,640,-3.2],[21.55,490,560,3],[21.65,380,480,-3],[21.85,270,330,3.6],[21.9,880,940,3.8],[22.05,830,900,-3],[22.1,260,430,-3.4],[22.9,510,600,3.5],[22.92,350,400,3],[23.05,220,500,-0.6],[23.1,370,600,-3.4],
[20.75,2320,2370,3.6],[21.3,2120,2150,-3.4]];
const titleFont='"DejaVu Sans"';
const tickSize=16.2, nameSize=19.5, colTitle=16.5, legendSize=16.6, barNameSize=17;
const zhStops=[[-50,'#dcdcdc'],[-44,'#a6a6f4'],[-38,'#5a5aff'],[-33,'#0000ff'],[-29,'#0040c0'],[-25,'#008080'],[-21,'#00a040'],[-15,'#00ff00'],[-7,'#ffff00'],[-2,'#ffb000'],[3,'#ff8000'],[10,'#ff0000'],[14,'#b00030'],[20,'#800080']];
const velStops=[[-4,'#3b4cc0'],[-3,'#6282ea'],[-2,'#8db0fe'],[-1,'#b8d0f9'],[0,'#dddcdc'],[1,'#f5c4ac'],[2,'#f29274'],[3,'#d65244'],[4,'#b40426']];
function hex(c){return [1,3,5].map(i=>parseInt(c.substr(i,2),16));}
function ramp(stops,v){
  if(v<=stops[0][0])return stops[0][1];
  for(let i=1;i<stops.length;i++){if(v<=stops[i][0]){
    const a=hex(stops[i-1][1]),b=hex(stops[i][1]),f=(v-stops[i-1][0])/(stops[i][0]-stops[i-1][0]);
    return 'rgb('+a.map((x,k)=>Math.round(x+(b[k]-x)*f)).join(',')+')';}}
  return stops[stops.length-1][1];
}
// assemble [time,low,high,value] rows from per-column arrays
const PROFILE_HOURS=0.05;
function profiles(start,lows,highs,vals){return highs.map((h,i)=>[start+i*PROFILE_HOURS,Array.isArray(lows)?lows[i]:lows,h,vals[i]]);}
const zhProfiles=[]
 .concat(profiles(4,500,zhFringeTop,zhFringeDbz))
 .concat(profiles(4,zhBandLow,zhBandLow.map((l,i)=>l+zhBandThick[i]),zhBandDbz))
 .concat(zhPale)
 .concat(profiles(17.4,zh2Low,zh2High,zh2Dbz));
const velProfiles=[]
 .concat(profiles(4,205,velTop,velVal))
 .concat(profiles(17.1,vel2Low,vel2High,vel2Val));
const W=597.5;
const grids=[
 {left:91,top:121,width:W,height:216},{left:887,top:121,width:W,height:216},
 {left:91,top:418,width:W,height:216},{left:887,top:418,width:W,height:216},
 {left:91,top:715,width:W,height:216},{left:887,top:715,width:W,height:216},
 {left:707.5,top:130,width:18,height:196},{left:1503.5,top:130,width:18,height:196.7}
].map(g=>Object.assign({show:true,borderColor:'#000',borderWidth:1.3,backgroundColor:'#fff',containLabel:false},g));
const dash={show:true,showMinLine:false,showMaxLine:false,lineStyle:{color:'#d3d3d3',type:'dashed',width:1}};
const tl={color:'#000',fontSize:tickSize,fontFamily:titleFont};
const yl={...tl,margin:11,padding:[2,0,0,0],formatter:v=>String(v).replace('-','−')};
const rich={i:{fontStyle:'italic',fontSize:nameSize,fontFamily:titleFont,color:'#000'}};
function timeX(gi,labels,name){return {type:'value',gridIndex:gi,min:0,max:24,interval:3,
  axisLine:{show:false},
  axisTick:{show:true,customValues:hourTicks,length:5,lineStyle:{color:'#000'}},
  minorTick:{show:true,splitNumber:3,length:3,lineStyle:{color:'#000'}},
  axisLabel:{show:labels,customValues:hourTicks,formatter:v=>String(v).padStart(2,'0')+':00',hideOverlap:false,...tl,margin:10.5},
  splitLine:dash,minorSplitLine:{show:false},
  name:name||'',nameLocation:'middle',nameGap:36,nameTextStyle:{fontSize:nameSize,fontFamily:titleFont,color:'#000'}};}
function nm(name,gap,size){return {name,nameLocation:'middle',nameGap:gap,nameRotate:90,nameTextStyle:{fontSize:size||nameSize,fontFamily:titleFont,color:'#000',rich:size?{i:{...rich.i,fontSize:size}}:rich}};}
const xAxes=[timeX(0,false),timeX(1,false),timeX(2,false),timeX(3,true,'Time [UTC]'),timeX(4,true,'Time [UTC]'),
 {type:'value',gridIndex:5,min:0,max:5,interval:1,axisLine:{show:false},axisTick:{length:5,lineStyle:{color:'#000'}},minorTick:{show:true,splitNumber:2,length:3,lineStyle:{color:'#000'}},axisLabel:{...tl,margin:10.5},splitLine:dash,
  name:'Diameter [{i|mm}]',nameLocation:'middle',nameGap:36,nameTextStyle:{fontSize:nameSize,fontFamily:titleFont,color:'#000',rich}},
 {type:'value',gridIndex:6,min:0,max:1,show:false},{type:'value',gridIndex:7,min:0,max:1,show:false}];
function altY(gi){return {type:'value',gridIndex:gi,min:0,max:2500,interval:500,axisLine:{show:false},axisTick:{length:5,lineStyle:{color:'#000'}},minorTick:{show:true,splitNumber:5,length:3,lineStyle:{color:'#000'}},axisLabel:yl,splitLine:dash,...nm('Altitude [m AGL]',58)};}
function ticksOnly(gi,pos,min,max,vals){return {type:'value',gridIndex:gi,position:pos,min,max,axisLine:{show:false},axisTick:{show:true,customValues:vals,length:3,lineStyle:{color:'#000'}},axisLabel:{show:false},splitLine:{show:false}};}
const yAxes=[
 altY(0),altY(1),
 {type:'value',gridIndex:2,min:20.52,max:35.08,axisLine:{show:false},axisTick:{customValues:tempTicks,length:5,lineStyle:{color:'#000'}},axisLabel:{...yl,customValues:tempTicks},splitLine:dash,...nm('Temperature [{i|°C}]',60)},
 {type:'value',gridIndex:2,position:'right',min:18.3,max:68.1,axisLine:{show:false},axisTick:{customValues:rhTicks,length:5,lineStyle:{color:'#000'}},axisLabel:{...yl,customValues:rhTicks},splitLine:{show:false},...nm('Relative Humidity [%]',36)},
 {type:'value',gridIndex:3,min:-0.107,max:8.53,axisLine:{show:false},axisTick:{customValues:windTicks,length:5,lineStyle:{color:'#000'}},axisLabel:{...yl,customValues:windTicks},splitLine:dash,...nm('Wind Speed [{i|m.s⁻¹}]',61)},
 {type:'value',gridIndex:3,position:'right',min:0,max:360,interval:60,axisLine:{show:false},axisTick:{length:5,lineStyle:{color:'#000'}},minorTick:{show:true,splitNumber:3,length:3,lineStyle:{color:'#000'}},axisLabel:yl,splitLine:{show:false},...nm('Wind Direction [°]',46)},
 {type:'value',gridIndex:4,min:-0.543,max:10.46,axisLine:{show:false},axisTick:{customValues:[0],length:5,lineStyle:{color:'#000'}},axisLabel:{...yl,customValues:[0]},splitLine:{show:false},...nm('Cumulative rainfall [{i|mm}]',58)},
 {type:'value',gridIndex:5,min:0,max:10,interval:2,axisLine:{show:false},axisTick:{length:5,lineStyle:{color:'#000'}},minorTick:{show:true,splitNumber:2,length:3,lineStyle:{color:'#000'}},axisLabel:yl,splitLine:dash,...nm('Fall speed [{i|m.s⁻¹}]',61)},
 {type:'value',gridIndex:6,position:'right',min:-50,max:20,axisLine:{show:false},axisTick:{customValues:[-50,-30,-10,10],length:5,lineStyle:{color:'#000'}},axisLabel:{...yl,customValues:[-50,-30,-10,10]},splitLine:{show:false},...nm('Zh [{i|dBZ}]',50,barNameSize)},
 {type:'value',gridIndex:7,position:'right',min:-4,max:4,axisLine:{show:false},axisTick:{customValues:[-4,-2,0,2,4],length:5,lineStyle:{color:'#000'}},axisLabel:{...yl,customValues:[-4,-2,0,2,4]},splitLine:{show:false},...nm('Velocity [{i|m.s⁻¹}]',41,barNameSize)},
 ticksOnly(2,'left',20.52,35.08,tempMinor),
 ticksOnly(2,'right',18.3,68.1,Array.from({length:49},(_,i)=>19+i).filter(v=>v%5!==0)),
 ticksOnly(3,'left',-0.107,8.53,windMinor)
];
function spanSeries(name,gi,rows,stops){
  return {type:'custom',name,xAxisIndex:gi,yAxisIndex:gi,data:rows,clip:true,z:2,silent:true,encode:{x:[0,1],y:[2,3]},
   renderItem:(p,api)=>{const a=api.coord([api.value(0),api.value(3)]),b=api.coord([api.value(1),api.value(2)]);
     return {type:'rect',shape:{x:a[0],y:a[1],width:b[0]-a[0],height:b[1]-a[1]},style:{fill:ramp(stops,api.value(4))}};}};
}
function cellSeries(name,gi,rows,stops,share){
  return {type:'custom',name,xAxisIndex:gi,yAxisIndex:gi,data:rows,clip:true,z:2,silent:true,encode:{x:0,y:[1,2]},
   renderItem:(p,api)=>{const t0=api.value(0),a=api.coord([t0,api.value(2)]),b=api.coord([t0+PROFILE_HOURS*share,api.value(1)]);
     return {type:'rect',shape:{x:a[0],y:a[1],width:b[0]-a[0],height:b[1]-a[1]},style:{fill:ramp(stops,api.value(3))}};}};
}
function barSeries(gi,stops,lo,hi,n){
  const levels=Array.from({length:n},(_,i)=>[lo+(hi-lo)*i/n]);
  const step=(hi-lo)/n;
  return {type:'custom',name:'cb'+gi,xAxisIndex:gi,yAxisIndex:gi+2,data:levels,silent:true,z:2,encode:{y:0},
   renderItem:(p,api)=>{const v=api.value(0),a=api.coord([0,v+step]),b=api.coord([1,v]);
     return {type:'rect',shape:{x:a[0],y:a[1]-0.3,width:b[0]-a[0],height:b[1]-a[1]+0.6},style:{fill:ramp(stops,v+step/2)}};}};
}
function capSeries(gi,ends,colors){
  return {type:'custom',name:'cap'+gi,xAxisIndex:gi,yAxisIndex:gi+2,data:ends.map(e=>[e]),silent:true,clip:false,z:3,encode:{y:0},
   renderItem:(p,api)=>{const v=api.value(0),i=p.dataIndex,a=api.coord([0,v]),b=api.coord([1,v]),dir=i===0?10:-10;
     return {type:'polygon',shape:{points:[[a[0],a[1]],[b[0],b[1]],[(a[0]+b[0])/2,a[1]+dir]]},style:{fill:colors[i],stroke:'#000',lineWidth:1}};}};
}
const hourly=(arr,perHour,shift)=>arr.map((v,i)=>[(i+(shift||0))/perHour,v]);
const series=[
 spanSeries('zhB',0,zhBlocks,zhStops),cellSeries('zhP',0,zhProfiles,zhStops,1),cellSeries('zhS',0,zhStripes,zhStops,0.7),spanSeries('zhG',0,zh2Base,zhStops),
 cellSeries('velP',1,velProfiles,velStops,1),cellSeries('velS',1,velStripes,velStops,0.9),
 {type:'line',name:'ta',xAxisIndex:2,yAxisIndex:2,data:hourly(temperature,10),symbol:'none',lineStyle:{color:'#0ea5ff',width:2.6},itemStyle:{color:'#0ea5ff'},z:3},
 {type:'line',name:'rh',xAxisIndex:2,yAxisIndex:3,data:hourly(humidity,10),symbol:'none',lineStyle:{color:'#ffa500',width:2.6},itemStyle:{color:'#ffa500'},z:3},
 {type:'line',name:'Wind Speed',xAxisIndex:3,yAxisIndex:4,data:hourly(windSpeed,15),symbol:'none',lineStyle:{color:'#ff0000',width:2.6},itemStyle:{color:'#ff0000'},z:2},
 {type:'scatter',name:'Wind Direction',xAxisIndex:3,yAxisIndex:5,data:hourly(windDirection,20).concat(hourly(windDirectionB,20,0.5),windDirExtra),symbol:'circle',symbolSize:6.5,itemStyle:{color:'#008000',opacity:1},z:3},
 {type:'line',name:'Thies Clima LNM',xAxisIndex:4,yAxisIndex:6,data:rainSteps,step:'end',symbol:'none',lineStyle:{color:'#f4886a',width:2.8},itemStyle:{color:'#f4886a'},z:3},
 {type:'line',name:'Weather Station',xAxisIndex:4,yAxisIndex:6,data:stationRain,symbol:'none',lineStyle:{color:'#999999',width:3},itemStyle:{color:'#999999'},z:4},
 {type:'scatter',name:'nofit',xAxisIndex:5,yAxisIndex:7,data:[[2.2,4.25]],symbolSize:0,silent:true,itemStyle:{opacity:1},label:{show:true,position:'inside',formatter:'No fit',fontStyle:'italic',fontSize:19.5,fontFamily:titleFont,color:'#000',opacity:1}},
 barSeries(6,zhStops,-50,20,140),capSeries(6,[-50,20],['#dcdcdc','#800080']),
 barSeries(7,velStops,-4,4,140),capSeries(7,[-4,4],['#3b4cc0','#b40426'])
];
const lb={orient:'vertical',borderColor:'#cccccc',borderWidth:1,borderRadius:3,backgroundColor:'rgba(255,255,255,0.85)',itemWidth:36,itemHeight:3,selectedMode:false,textStyle:{fontSize:legendSize,fontFamily:titleFont,color:'#000'},z:5};
const ts=p=>({...lb.textStyle,padding:[0,0,0,p]});
const legends=[
 {...lb,left:100.5,top:427,data:[{name:'ta',icon:'rect'}],padding:[5.5,8,5.5,5],textStyle:ts(8)},
 {...lb,left:594,top:435,data:[{name:'rh',icon:'rect'}],padding:[5.5,8,5.5,6],textStyle:ts(7)},
 {...lb,left:897,top:427,data:[{name:'Wind Speed',icon:'rect'}],padding:[5.5,7,5.5,5],textStyle:ts(6.5)},
 {...lb,left:1293,top:427,data:[{name:'Wind Direction',icon:'circle'}],itemWidth:12,itemHeight:7,padding:[5.5,7,5.5,17],textStyle:ts(20)},
 {...lb,left:482,top:868,data:[{name:'Thies Clima LNM',icon:'rect'},{name:'Weather Station',icon:'rect'}],itemGap:9,padding:[3,6.5,6,5],textStyle:ts(7)}
];
const col1=91+W/2,col2=887+W/2;
const sub=(text,x,y)=>({text,left:x,top:y,textAlign:'center',padding:0,textStyle:{fontSize:colTitle,fontStyle:'italic',fontWeight:'normal',fontFamily:titleFont,color:'#000'}});
const titles=[
 {text:'Measurement site: SIRTA (48.717N, 2.209E, 156m)\n12-07-2026',left:800,top:18,textAlign:'center',padding:0,textStyle:{fontSize:22.2,fontWeight:'normal',fontFamily:titleFont,color:'#000',lineHeight:24}},
 sub('DCR - BASTA',col1,98),sub('DCR - BASTA',col2,98),sub('weather station',col1,395),sub('weather station',col2,395),sub('Disdrometer and Weather station',col1,692),sub('Relationship disdrometer fall speed / drop size',col2,692)
];
const navy='#0a0a3c';
const logo=[
 {type:'bezierCurve',shape:{x1:1307,y1:50,cpx1:1340,cpy1:5,cpx2:1420,cpy2:5,x2:1453,y2:50},style:{fill:null,lineWidth:2.6,stroke:new echarts.graphic.LinearGradient(0,0,1,0,[{offset:0,color:'#86cdc8'},{offset:0.3,color:'#2f8ea4'},{offset:0.6,color:'#123a66'},{offset:1,color:navy}])}},
 {type:'line',shape:{x1:1424.5,y1:2,x2:1424.5,y2:54},style:{lineWidth:2,stroke:new echarts.graphic.LinearGradient(0,0,0,1,[{offset:0,color:'rgba(10,10,60,0)'},{offset:0.3,color:navy},{offset:1,color:navy}])}},
 {type:'text',style:{x:1298,y:56,text:'A',fontSize:29,fontFamily:titleFont,fill:navy}},
 {type:'text',style:{x:1333,y:56,text:'C',fontSize:29,fontFamily:titleFont,fill:navy}},
 {type:'text',style:{x:1366,y:56,text:'T',fontSize:29,fontFamily:titleFont,fill:navy}},
 {type:'text',style:{x:1397,y:56,text:'R',fontSize:29,fontFamily:titleFont,fill:navy}},
 {type:'text',style:{x:1422.5,y:56,text:'I',fontSize:29,fontFamily:titleFont,fill:navy}},
 {type:'text',style:{x:1439,y:56,text:'S',fontSize:29,fontFamily:titleFont,fill:navy}},
 {type:'text',style:{x:1350,y:86,text:'CCRES',fontSize:16.2,fontFamily:titleFont,fill:navy}}
];
const chart=echarts.init(document.getElementById('c'),null,{width:1600,height:1000,renderer:'canvas'});
chart.setOption({animation:false,backgroundColor:'#fff',textStyle:{fontFamily:titleFont},title:titles,grid:grids,xAxis:xAxes,yAxis:yAxes,legend:legends,series,graphic:logo});
</script></body></html>
